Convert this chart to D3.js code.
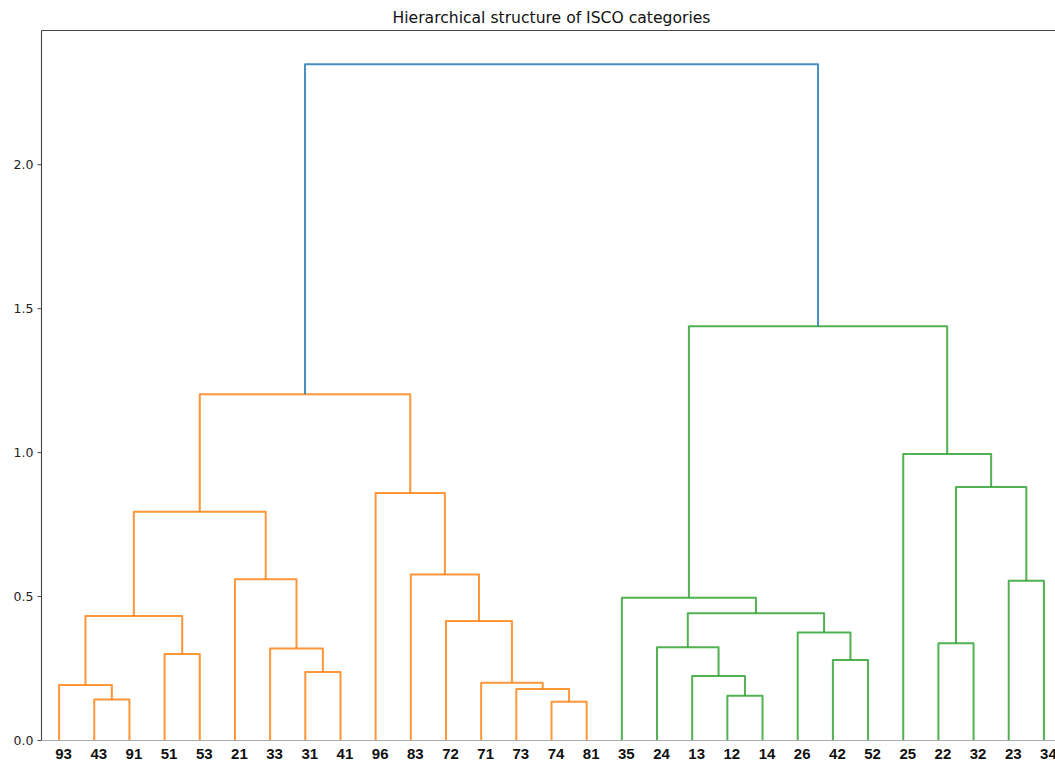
<!DOCTYPE html>
<html>
<head>
<meta charset="utf-8">
<script src="https://cdn.jsdelivr.net/npm/d3@7"></script>
<style>
  html, body { margin: 0; padding: 0; background: #fff; }
  svg { display: block; }
</style>
</head>
<body>
<svg id="chart" width="1055" height="761"></svg>
<script>
// ---- data ----
const leafLabels = ["93","43","91","51","53","21","33","31","41","96","83","72","71","73","74","81",
                    "35","24","13","12","14","26","42","52","25","22","32","23","34"];
// merges: left child, right child, height; children are leaf labels or "m<index>"
const mergeLeft   = ["43","93","51","m1","31","33","21","m3","74","73","71","72","83","96","m7",
                     "12","13","24","42","26","m17","35","22","23","m22","25","m21","m14"];
const mergeRight  = ["91","m0","53","m2","41","m4","m5","m6","81","m8","m9","m10","m11","m12","m13",
                     "14","m15","m16","52","m18","m19","m20","32","34","m23","m24","m25","m26"];
const mergeHeight = [0.141,0.191,0.299,0.431,0.236,0.318,0.558,0.793,0.133,0.177,0.199,0.413,0.575,0.858,1.201,
                     0.154,0.222,0.322,0.278,0.373,0.440,0.494,0.336,0.553,0.879,0.993,1.4375,2.347];
const yTicks = [0, 0.5, 1.0, 1.5, 2.0];
const titleText = "Hierarchical structure of ISCO categories";
const colorThresholdFrac = 0.7;
const clusterColors = ["#ff7f0e", "#2ca02c", "#d62728", "#9467bd"];
const aboveColor = "#1f77b4";

// ---- layout ----
const svg = d3.select("#chart");
const plotL = 41.5, plotT = 30.5, plotB = 740, plotR = 1061.5;
const n = leafLabels.length;
const x = d3.scaleLinear().domain([0, 10 * n]).range([plotL, plotR]);
const maxH = d3.max(mergeHeight);
const y = d3.scaleLinear().domain([0, maxH * 1.05]).range([plotB, plotT]);

// node positions
const pos = {};
leafLabels.forEach((l, i) => { pos[l] = { x: 5 + 10 * i, h: 0, leaf: true }; });
mergeHeight.forEach((h, i) => {
  const a = pos[mergeLeft[i]], b = pos[mergeRight[i]];
  pos["m" + i] = { x: (a.x + b.x) / 2, h: h, a: mergeLeft[i], b: mergeRight[i] };
});

// colors (scipy-like): links below threshold get cluster colour
const threshold = colorThresholdFrac * maxH;
const linkColor = {};
let clusterIdx = 0;
function assign(id, color) {
  const nd = pos[id];
  if (nd.leaf) return;
  linkColor[id] = color;
  assign(nd.a, color); assign(nd.b, color);
}
function walk(id) {
  const nd = pos[id];
  if (nd.leaf) return;
  if (nd.h < threshold) {
    assign(id, clusterColors[clusterIdx++ % clusterColors.length]);
  } else {
    linkColor[id] = aboveColor;
    walk(nd.a); walk(nd.b);
  }
}
walk("m" + (mergeHeight.length - 1));

// title
svg.append("text")
  .attr("x", (plotL + plotR) / 2).attr("y", 22.5)
  .attr("text-anchor", "middle")
  .attr("font-family", "DejaVu Sans").attr("font-size", 15.6)
  .attr("fill", "#111")
  .text(titleText);

// links
const line = d3.line().x(d => x(d[0])).y(d => y(d[1]));
const g = svg.append("g");
mergeHeight.forEach((h, i) => {
  const a = pos[mergeLeft[i]], b = pos[mergeRight[i]];
  g.append("path")
    .attr("d", line([[a.x, a.h], [a.x, h], [b.x, h], [b.x, b.h]]))
    .attr("fill", "none")
    .attr("stroke", linkColor["m" + i])
    .attr("stroke-opacity", 0.82)
    .attr("stroke-width", 2)
    .attr("stroke-linejoin", "round");
});

// spines
svg.append("line").attr("x1", plotL).attr("x2", plotL).attr("y1", plotT).attr("y2", plotB)
  .attr("stroke", "#444").attr("stroke-width", 1.1);
svg.append("line").attr("x1", plotL).attr("x2", plotR).attr("y1", plotT).attr("y2", plotT)
  .attr("stroke", "#444").attr("stroke-width", 1.1);
svg.append("line").attr("x1", plotL).attr("x2", plotR).attr("y1", plotB + 0.5).attr("y2", plotB + 0.5)
  .attr("stroke", "#aaa").attr("stroke-width", 1);

// y axis
const yAxis = d3.axisLeft(y).tickValues(yTicks).tickFormat(d3.format(".1f")).tickSize(4).tickPadding(4);
const ga = svg.append("g").attr("transform", `translate(${plotL},0)`).call(yAxis);
ga.select(".domain").remove();
ga.selectAll(".tick line").attr("stroke", "#444");
ga.selectAll(".tick text").attr("font-family", "DejaVu Sans").attr("font-size", 12.5).attr("fill", "#222");

// x axis (leaf labels)
const leafScale = d3.scalePoint().domain(leafLabels).range([x(5), x(10 * n - 5)]);
const xAxis = d3.axisBottom(leafScale).tickSize(0).tickPadding(8);
const gx = svg.append("g").attr("transform", `translate(0,${plotB})`).call(xAxis);
gx.select(".domain").remove();
gx.selectAll(".tick text")
  .attr("dx", 4)
  .attr("font-family", "Liberation Sans").attr("font-weight", "bold").attr("font-size", 15)
  .attr("fill", "#111");
</script>
</body>
</html>
